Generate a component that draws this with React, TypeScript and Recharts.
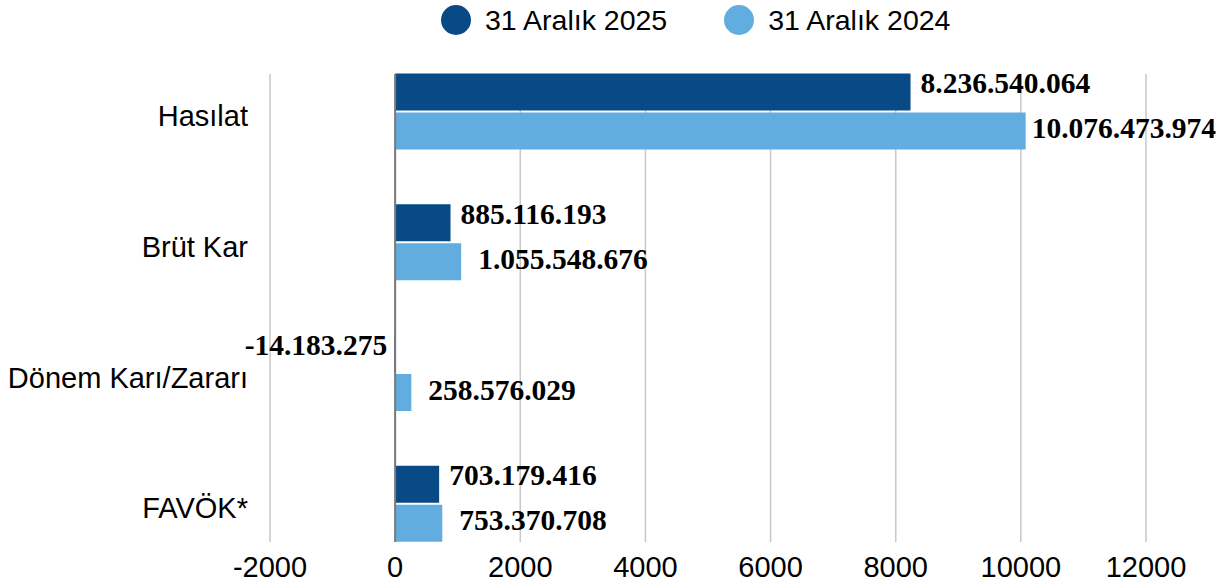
import React from "react";
import {
  BarChart,
  Bar,
  XAxis,
  YAxis,
  CartesianGrid,
  Legend,
  LabelList,
  ReferenceLine,
} from "recharts";

const categories = ["Hasılat", "Brüt Kar", "Dönem Karı/Zararı", "FAVÖK*"];
const seriesNames = ["31 Aralık 2025", "31 Aralık 2024"];
const values2025 = [8236540064, 885116193, -14183275, 703179416];
const values2024 = [10076473974, 1055548676, 258576029, 753370708];
const xTicks = [-2000, 0, 2000, 4000, 6000, 8000, 10000, 12000];

const DARK = "#074a85";
const LIGHT = "#62ade0";
const SANS = "'Liberation Sans', Arial, sans-serif";
const LABEL_FS = 29.5;
const CHART_W = 1222;

// bars are plotted in millions, labels show the full number
const data = categories.map((name, i) => ({
  name,
  y2025: values2025[i] / 1e6,
  y2024: values2024[i] / 1e6,
  raw2025: values2025[i],
  raw2024: values2024[i],
}));

const fmt = (v: number) => {
  const s = Math.abs(Math.round(v))
    .toString()
    .replace(/\B(?=(\d{3})+(?!\d))/g, ".");
  return v < 0 ? "-" + s : s;
};

// rough width of a bold serif number string
const textWidth = (s: string) =>
  s.split("").reduce((w, c) => w + (c === "." ? 0.25 : 0.5), 0) * LABEL_FS;

const makeLabel = (dx: number, dy: number) => (props: any) => {
  const { x, y, width, height, value } = props;
  const left = Math.min(x, x + width);
  const right = Math.max(x, x + width);
  const neg = value < 0;
  const txt = fmt(value);
  // keep the label inside the picture
  const tx = neg
    ? left - 7
    : Math.min(right + dx, CHART_W - 6 - textWidth(txt));
  return (
    <text
      x={tx}
      y={y + height / 2 + dy}
      textAnchor={neg ? "end" : "start"}
      dominantBaseline="central"
      fontFamily="'Liberation Serif', 'Times New Roman', serif"
      fontWeight="bold"
      fontSize={LABEL_FS}
      fill="#000"
    >
      {txt}
    </text>
  );
};

const renderLegend = () => (
  <div
    style={{
      display: "flex",
      alignItems: "center",
      paddingLeft: 441,
      height: 40,
      fontFamily: SANS,
      fontSize: 28.5,
      color: "#000",
    }}
  >
    {seriesNames.map((n, i) => (
      <div
        key={n}
        style={{ display: "flex", alignItems: "center", marginRight: 57 }}
      >
        <svg width={30} height={30} style={{ marginRight: 14 }}>
          <circle cx={15} cy={15} r={15} fill={i === 0 ? DARK : LIGHT} />
        </svg>
        <span>{n}</span>
      </div>
    ))}
  </div>
);

export default function App() {
  return (
    <div style={{ position: "absolute", left: 0, top: 0, background: "#fff" }}>
      <BarChart
        width={CHART_W}
        height={584}
        data={data}
        layout="vertical"
        margin={{ top: 34, right: 76, bottom: 0, left: 0 }}
        barSize={37}
        barGap={2}
      >
        <CartesianGrid
          horizontal={false}
          stroke="#c8c8c8"
          strokeWidth={1.5}
        />
        <XAxis
          type="number"
          domain={[-2000, 12000]}
          ticks={xTicks}
          axisLine={false}
          tickLine={false}
          tickSize={0}
          tickMargin={14}
          height={42}
          interval={0}
          tick={{ fill: "#000", fontSize: 29, fontFamily: SANS }}
        />
        <YAxis
          type="category"
          dataKey="name"
          width={270}
          axisLine={false}
          tickLine={false}
          tickSize={0}
          tickMargin={22}
          padding={{ top: -27.5, bottom: -27.5 }}
          tick={{ fill: "#000", fontSize: 29, fontFamily: SANS, dy: 4 }}
        />
        <Legend
          verticalAlign="top"
          content={renderLegend}
          wrapperStyle={{ top: 0, left: 0, width: CHART_W }}
        />
        <ReferenceLine x={0} stroke="#7a7a7a" strokeWidth={2} />
        <Bar dataKey="y2025" name={seriesNames[0]} fill={DARK} isAnimationActive={false}>
          <LabelList dataKey="raw2025" content={makeLabel(10, -9)} />
        </Bar>
        <Bar dataKey="y2024" name={seriesNames[1]} fill={LIGHT} isAnimationActive={false}>
          <LabelList dataKey="raw2024" content={makeLabel(17, -3)} />
        </Bar>
      </BarChart>
    </div>
  );
}
